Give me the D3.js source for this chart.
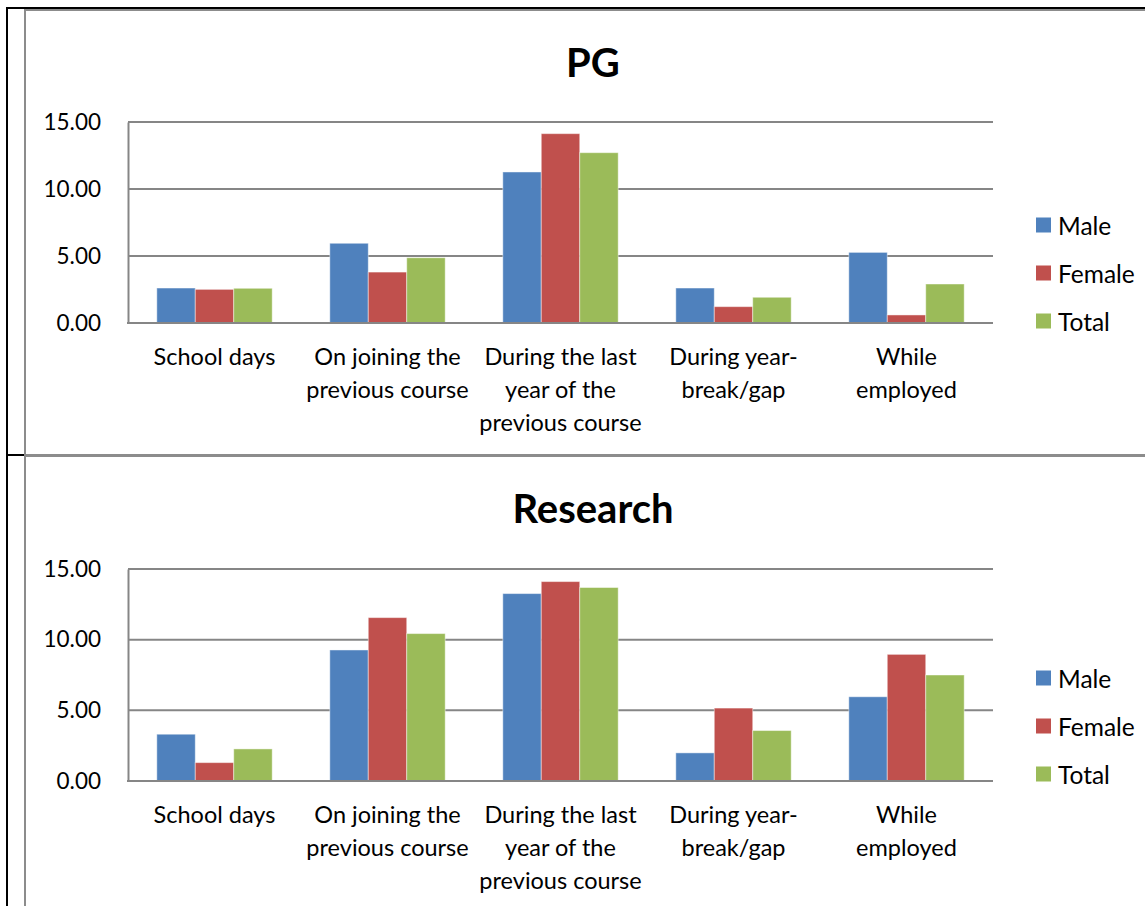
<!DOCTYPE html>
<html>
<head>
<meta charset="utf-8">
<script src="https://cdn.jsdelivr.net/npm/d3@7"></script>
<style>
  html, body { margin: 0; padding: 0; background: #fff; }
  svg { display: block; font-family: Lato, "Open Sans", sans-serif; }
</style>
</head>
<body>
<svg id="chart" width="1145" height="906"></svg>
<script>
// Category labels (line-broken as they appear under the axis)
const categories = [
  ["School days"],
  ["On joining the", "previous course"],
  ["During the last", "year of the", "previous course"],
  ["During year-", "break/gap"],
  ["While", "employed"]
];
const seriesNames = ["Male", "Female", "Total"];
const seriesColors = ["#4F81BD", "#C0504D", "#9BBB59"];
const yTicks = [0, 5, 10, 15];

// PG respondents
const pgMale   = [2.61, 5.95, 11.27, 2.61, 5.27];
const pgFemale = [2.51, 3.80, 14.13, 1.22, 0.60];
const pgTotal  = [2.59, 4.87, 12.71, 1.92, 2.91];

// Research respondents
const resMale   = [3.31, 9.27, 13.26, 1.99, 5.96];
const resFemale = [1.30, 11.56, 14.11, 5.16, 8.96];
const resTotal  = [2.27, 10.43, 13.69, 3.57, 7.50];

const svg = d3.select("#chart");

// Table frame lines
svg.append("line").attr("x1", 7).attr("x2", 7).attr("y1", 8).attr("y2", 906)
  .attr("stroke", "#000").attr("stroke-width", 2);
svg.append("line").attr("x1", 6).attr("x2", 1145).attr("y1", 8).attr("y2", 8)
  .attr("stroke", "#000").attr("stroke-width", 2);
svg.append("line").attr("x1", 6).attr("x2", 25).attr("y1", 455).attr("y2", 455)
  .attr("stroke", "#000").attr("stroke-width", 2);

function drawChart(cfg) {
  const g = svg.append("g");
  // chart border
  g.append("rect")
    .attr("x", cfg.frame.x).attr("y", cfg.frame.y)
    .attr("width", cfg.frame.w).attr("height", cfg.frame.h)
    .attr("fill", "#fff").attr("stroke", "#8c8c8c").attr("stroke-width", 2);

  g.append("text")
    .attr("x", 593).attr("y", cfg.titleY)
    .attr("text-anchor", "middle").attr("dominant-baseline", "central")
    .attr("font-size", 40).attr("font-weight", "bold").attr("fill", "#000")
    .text(cfg.title);

  const x0 = d3.scaleBand().domain(d3.range(categories.length))
    .range([128, 993]).paddingInner(0.333).paddingOuter(0.1665);
  const x1 = d3.scaleBand().domain(d3.range(seriesNames.length))
    .range([0, x0.bandwidth()]);
  const y = d3.scaleLinear().domain([0, 15]).range([cfg.bottom, cfg.top]);

  // gridlines
  g.selectAll(".grid").data(yTicks.filter(t => t > 0)).join("line")
    .attr("x1", 128).attr("x2", 993)
    .attr("y1", d => y(d)).attr("y2", d => y(d))
    .attr("stroke", "#868686").attr("stroke-width", 2);

  // y axis
  const yAxis = d3.axisLeft(y).tickValues(yTicks).tickFormat(d3.format(".2f"))
    .tickSize(0).tickPadding(27);
  const ya = g.append("g").attr("transform", "translate(128,0)").call(yAxis);
  ya.select(".domain").attr("stroke", "#868686").attr("stroke-width", 2);
  ya.selectAll("text").attr("font-size", 22.5).attr("fill", "#000")
    .attr("font-family", "Lato, sans-serif");

  // bars
  cfg.series.forEach((vals, si) => {
    g.selectAll(".bar" + si).data(vals).join("rect")
      .attr("x", (d, i) => x0(i) + x1(si))
      .attr("y", d => y(d))
      .attr("width", x1.bandwidth())
      .attr("height", d => y(0) - y(d))
      .attr("fill", seriesColors[si])
      .attr("stroke", "rgba(255,255,255,0.45)").attr("stroke-width", 1);
  });

  // x axis baseline
  g.append("line").attr("x1", 127).attr("x2", 993)
    .attr("y1", y(0)).attr("y2", y(0))
    .attr("stroke", "#868686").attr("stroke-width", 2);

  // category labels
  categories.forEach((lines, i) => {
    const t = g.append("text")
      .attr("x", x0(i) + x0.bandwidth() / 2)
      .attr("text-anchor", "middle").attr("font-size", 23.5).attr("fill", "#000");
    lines.forEach((ln, k) => {
      t.append("tspan").attr("x", x0(i) + x0.bandwidth() / 2)
        .attr("y", y(0) + 33 + k * 33).attr("dominant-baseline", "central").text(ln);
    });
  });

  // legend
  seriesNames.forEach((name, si) => {
    const ly = cfg.legendY + si * 48;
    g.append("rect").attr("x", 1036).attr("y", ly - 7.5).attr("width", 15).attr("height", 15)
      .attr("fill", seriesColors[si]);
    g.append("text").attr("x", 1058).attr("y", ly).attr("dominant-baseline", "central")
      .attr("font-size", 24.5).attr("fill", "#000").text(name);
  });
}

drawChart({
  title: "PG",
  frame: { x: 25, y: 10, w: 1140, h: 445 },
  titleY: 62, top: 122, bottom: 323, legendY: 225,
  series: [pgMale, pgFemale, pgTotal]
});

drawChart({
  title: "Research",
  frame: { x: 25, y: 456, w: 1140, h: 470 },
  titleY: 508, top: 569, bottom: 781, legendY: 678,
  series: [resMale, resFemale, resTotal]
});
</script>
</body>
</html>
